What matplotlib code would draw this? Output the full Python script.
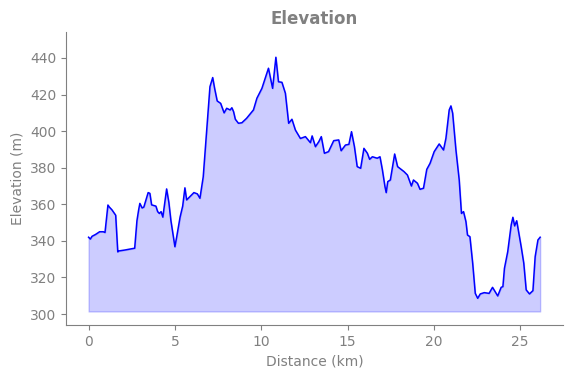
import matplotlib
matplotlib.use("Agg")
import matplotlib.pyplot as plt

distance_km = [0.0, 0.1, 0.2, 0.4, 0.64, 0.85, 0.95, 1.12, 1.2, 1.35, 1.57, 1.69, 1.75, 2.1, 2.4, 2.67,
               2.8, 2.9, 2.97, 3.1, 3.2, 3.45, 3.55, 3.65, 3.9, 4.0, 4.1, 4.2, 4.3, 4.52, 4.65, 4.77, 5.0,
               5.1, 5.3, 5.45, 5.58, 5.68, 5.9, 6.1, 6.3, 6.45, 6.64, 6.84, 7.03, 7.19, 7.3, 7.45, 7.65,
               7.85, 8.0, 8.2, 8.3, 8.4, 8.5, 8.68, 8.88, 9.15, 9.55, 9.75, 10.04, 10.42, 10.66, 10.85,
               11.0, 11.2, 11.4, 11.59, 11.78, 11.98, 12.27, 12.56, 12.85, 12.95, 13.14, 13.34, 13.48,
               13.66, 13.9, 14.2, 14.49, 14.63, 14.88, 15.08, 15.23, 15.4, 15.56, 15.76, 15.95, 16.15,
               16.28, 16.44, 16.72, 16.88, 17.02, 17.17, 17.24, 17.33, 17.48, 17.73, 17.9, 18.27, 18.47,
               18.7, 18.82, 19.05, 19.2, 19.4, 19.59, 19.78, 20.02, 20.31, 20.56, 20.7, 20.89, 20.99,
               21.09, 21.28, 21.47, 21.6, 21.72, 21.86, 21.95, 22.09, 22.25, 22.4, 22.54, 22.69, 22.92,
               23.2, 23.4, 23.7, 23.9, 24.0, 24.09, 24.28, 24.48, 24.58, 24.68, 24.8, 25.06, 25.21, 25.35,
               25.54, 25.74, 25.87, 26.03, 26.16]
elevation_m = [342.0, 341.0, 342.5, 343.5, 345.0, 345.0, 344.6, 359.6, 358.5, 357.0, 354.0, 334.0, 334.5,
               335.0, 335.5, 336.0, 351.0, 357.0, 360.5, 358.0, 358.5, 366.4, 366.0, 359.7, 359.0, 356.0,
               355.0, 356.0, 353.0, 368.4, 361.0, 351.0, 336.8, 342.0, 353.0, 359.0, 369.0, 362.4, 364.5,
               366.4, 365.7, 363.3, 375.0, 400.6, 424.3, 429.3, 423.4, 416.5, 415.2, 410.0, 412.5, 411.6,
               412.8, 410.6, 406.5, 404.3, 404.6, 407.0, 411.6, 418.0, 423.4, 434.4, 423.4, 440.4, 427.0,
               426.7, 420.7, 404.3, 406.5, 400.6, 396.0, 397.0, 393.7, 397.4, 391.5, 394.3, 397.0, 387.9,
               388.8, 394.8, 395.2, 389.3, 392.4, 392.8, 399.7, 391.5, 380.6, 379.7, 390.6, 387.9, 384.6,
               386.0, 385.2, 386.0, 378.8, 369.6, 366.4, 372.4, 373.3, 387.5, 380.6, 377.9, 376.0, 370.0,
               373.3, 371.5, 368.2, 368.8, 379.1, 382.4, 388.8, 393.0, 389.7, 396.1, 411.6, 413.8, 409.8,
               389.7, 373.3, 355.0, 356.0, 350.5, 343.2, 342.3, 327.8, 311.3, 308.6, 311.0, 311.7, 311.3,
               314.6, 309.9, 314.6, 315.0, 325.0, 334.1, 348.7, 352.9, 348.2, 351.0, 336.8, 327.8, 313.2,
               311.0, 312.8, 331.4, 340.5, 342.0]
fill_base = 301.4
title = "Elevation"
xlabel = "Distance (km)"
ylabel = "Elevation (m)"

grey = "#808080"
plt.rcParams['font.family'] = ['DejaVu Sans']

fig = plt.figure(figsize=(5.71, 3.78), dpi=100)
ax = fig.add_axes([0.1156, 0.1402, 0.87, 0.7751])
ax.fill_between(distance_km, elevation_m, fill_base, color="blue", alpha=0.2)
ax.plot(distance_km, elevation_m, color="blue", linewidth=1.1)
ax.set_xlim(-1.308, 27.47)
ax.set_ylim(294.0, 454.2)
ax.set_xticks([0, 5, 10, 15, 20, 25])
ax.set_yticks([300, 320, 340, 360, 380, 400, 420, 440])
ax.set_title(title, color=grey, fontweight="bold", fontsize=12)
ax.set_xlabel(xlabel, color=grey, fontsize=10)
ax.set_ylabel(ylabel, color=grey, fontsize=10)
ax.tick_params(colors=grey, labelcolor=grey, labelsize=10)
for s in ["top", "right"]:
    ax.spines[s].set_visible(False)
for s in ["left", "bottom"]:
    ax.spines[s].set_color(grey)
fig.savefig("out.png", dpi=100)
